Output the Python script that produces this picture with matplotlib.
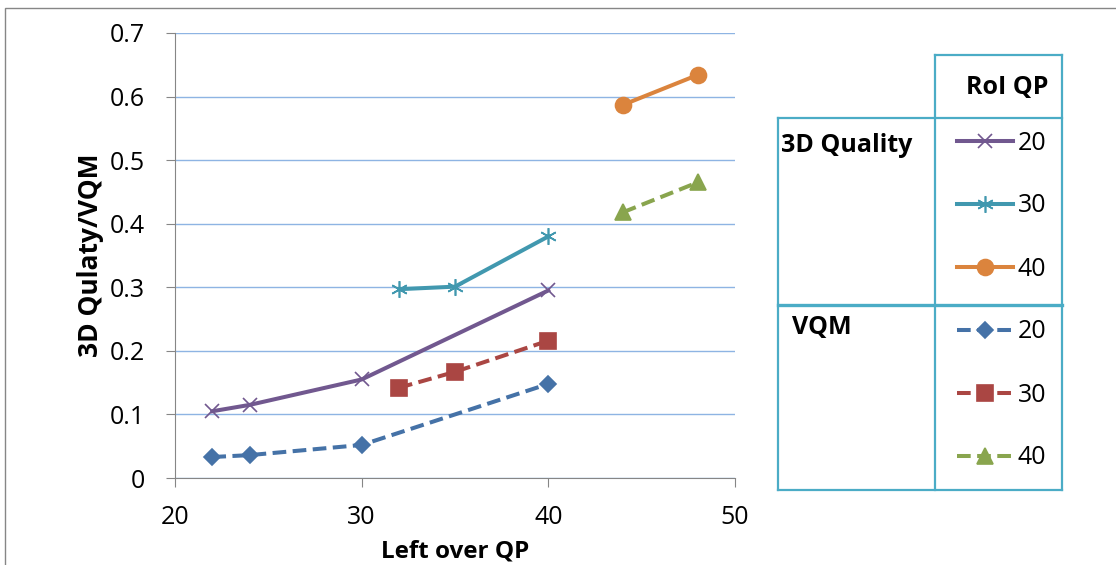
import matplotlib.pyplot as plt
from matplotlib.lines import Line2D
from matplotlib.patches import Rectangle

plt.rcParams['font.family'] = ['Open Sans', 'DejaVu Sans']

# data
x_20 = [22, 24, 30, 40]
x_30 = [32, 35, 40]
x_40 = [44, 48]
q3d_20 = [0.105, 0.115, 0.155, 0.295]
q3d_30 = [0.297, 0.301, 0.380]
q3d_40 = [0.587, 0.634]
vqm_20 = [0.033, 0.036, 0.052, 0.148]
vqm_30 = [0.142, 0.167, 0.216]
vqm_40 = [0.418, 0.465]
x_ticks = [20, 30, 40, 50]
y_ticks = [0, 0.1, 0.2, 0.3, 0.4, 0.5, 0.6, 0.7]
y_ticklabels = ["0", "0.1", "0.2", "0.3", "0.4", "0.5", "0.6", "0.7"]

fig = plt.figure(figsize=(11.16, 5.65), dpi=100)
W, H = 1116, 565
ax = fig.add_axes([175 / W, 1 - 478 / H, 560 / W, 445 / H])

dash = (0, (3.4, 1.6))
series = [
    (x_20, q3d_20, '#71588F', 'x', '-', 10, "20"),
    (x_30, q3d_30, '#4198AF', (6, 2, 0), '-', 12, "30"),
    (x_40, q3d_40, '#DB843D', 'o', '-', 11.5, "40"),
    (x_20, vqm_20, '#4572A7', 'D', dash, 8.5, "20"),
    (x_30, vqm_30, '#AA4643', 's', dash, 11, "30"),
    (x_40, vqm_40, '#89A54E', '^', dash, 11.5, "40"),
]
handles = []
for xs, ys, col, mk, ls, ms, lab in series:
    h, = ax.plot(xs, ys, color=col, linestyle=ls, linewidth=2.9, marker=mk,
                 markersize=ms, markerfacecolor=col, markeredgecolor=col,
                 markeredgewidth=1.2, label=lab)
    handles.append(h)

ax.set_xlim(20, 50)
ax.set_ylim(0, 0.7)
ax.set_xticks(x_ticks)
ax.set_yticks(y_ticks)
ax.set_yticklabels(y_ticklabels)
ax.grid(True, axis='y', color='#8EB4E3', linewidth=1)
ax.set_axisbelow(True)
for s in ['top', 'right']:
    ax.spines[s].set_visible(False)
for s in ['left', 'bottom']:
    ax.spines[s].set_color('#868686')
ax.tick_params(axis='both', colors='#868686', labelcolor='black',
               labelsize=18, length=6.5, direction='out')
ax.tick_params(axis='y', pad=15)
ax.tick_params(axis='x', pad=13)
ax.set_xlabel("Left over QP", fontsize=17.5, fontweight='bold', labelpad=7)
ax.set_ylabel("3D Qulaty/VQM", fontsize=19, fontweight='bold', labelpad=4)

# legend table
tc = '#4BACC6'
def fl(x0, y0, x1, y1, lw=1.6):
    fig.add_artist(Line2D([x0 / W, x1 / W], [1 - y0 / H, 1 - y1 / H],
                          color=tc, linewidth=lw, transform=fig.transFigure))

fl(935, 55, 1062, 55)
fl(935, 55, 935, 490)
fl(1062, 55, 1062, 490)
fl(778, 118, 1062, 118)
fl(778, 118, 778, 490)
fl(778, 305, 1062, 305, lw=2.4)
fl(778, 490, 1062, 490)

fig.text(1007 / W, 1 - 87 / H, "RoI QP", fontsize=18, fontweight='bold',
         ha='center', va='center')
fig.text(781 / W, 1 - 146 / H, "3D Quality", fontsize=18, fontweight='bold',
         ha='left', va='center')
fig.text(792 / W, 1 - 328 / H, "VQM", fontsize=18, fontweight='bold',
         ha='left', va='center')

fig.legend(handles=handles, loc='upper left',
           bbox_to_anchor=(957 / W, 1 - 130.5 / H), frameon=False,
           fontsize=18, handlelength=2.24, labelspacing=1.52, handletextpad=0.2,
           borderaxespad=0, borderpad=0)

# outer chart border
fig.add_artist(Rectangle((5 / W, -0.1), 1.2, 1.1 - 8 / H, fill=False,
                         edgecolor='#868686', linewidth=1,
                         transform=fig.transFigure))

fig.savefig("out.png", dpi=100)
